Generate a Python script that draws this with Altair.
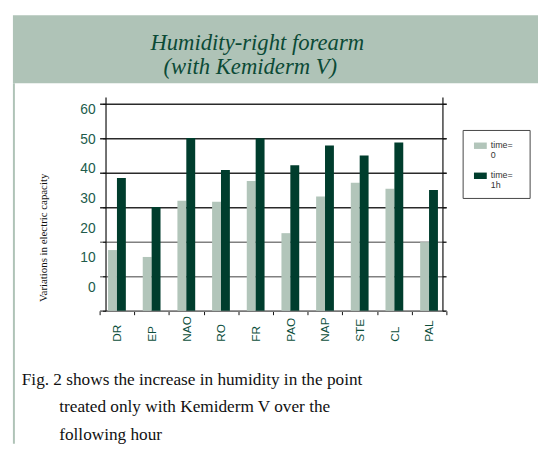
import altair as alt
import pandas as pd

# ---- data ----
categories = ["DR", "EP", "NAO", "RO", "FR", "PAO", "NAP", "STE", "CL", "PAL"]
series = ["time= 0", "time= 1h"]
time0 = [17.6, 15.6, 31.9, 31.6, 37.6, 22.5, 33.1, 37.1, 35.4, 19.9]
time1h = [38.5, 30.1, 50.1, 40.8, 50.0, 42.2, 47.9, 45.0, 48.8, 35.0]
y_tick_values = [60, 50, 40, 30, 20, 10, 0]
y_tick_labels = ["60", "50", "40", "30", "20", "10", "0"]
title_lines = ["Humidity-right forearm", "(with Kemiderm V)"]
y_title = "Variations in electric capacity"
caption_lines = [
    "Fig. 2 shows the increase in humidity in the point",
    "treated only with Kemiderm V over the",
    "following hour",
]

rows = []
for c, a, b in zip(categories, time0, time1h):
    rows.append({"cat": c, "series": series[0], "value": a})
    rows.append({"cat": c, "series": series[1], "value": b})
df = pd.DataFrame(rows)
ylab_df = pd.DataFrame({"v": y_tick_values, "label": y_tick_labels})

LIGHT = "#b2c5ba"
DARK = "#003d2d"
BAND = "#afc3b7"
GREEN_TXT = "#0b4a36"

W, H = 342, 217
Y_DOMAIN = [0, 62]

x_enc = alt.X(
    "cat:N",
    sort=categories,
    scale=alt.Scale(domain=categories, range=[-6, 346], paddingInner=0, paddingOuter=0),
    axis=alt.Axis(
        title=None, tickBand="extent", labelAngle=270, labelAlign="left",
        labelBaseline="middle", labelPadding=27, tickSize=4, tickColor="#111",
        domainColor="#777", domainWidth=1.5, labelFont="Liberation Sans",
        labelFontSize=12, labelColor="#0d4f3c", grid=False,
    ),
)
xoff_enc = alt.XOffset(
    "series:N", sort=series,
    scale=alt.Scale(domain=series, paddingOuter=0.95, paddingInner=0),
)
color_enc = alt.Color("series:N", scale=alt.Scale(domain=series, range=[LIGHT, DARK]), legend=None)

bars = alt.Chart(df).mark_bar().encode(
    x=x_enc,
    xOffset=xoff_enc,
    y=alt.Y(
        "value:Q",
        scale=alt.Scale(domain=Y_DOMAIN, nice=False),
        axis=alt.Axis(
            orient="left", values=y_tick_values, labels=False, title=None,
            tickSize=3, tickColor="#111", domainColor="#111", domainWidth=1.2,
            grid=True, gridWidth=1.5,
            gridColor={"condition": {"test": "datum.value >= 30", "value": "#2a2a2a"}, "value": "#808080"},
        ),
    ),
    color=color_enc,
)

right_axis = alt.Chart(df).mark_bar(opacity=0).encode(
    x=x_enc,
    xOffset=xoff_enc,
    y=alt.Y(
        "value:Q",
        scale=alt.Scale(domain=Y_DOMAIN, nice=False),
        axis=alt.Axis(
            orient="right", values=y_tick_values, labels=False, title=None,
            tickSize=3, tickColor="#111", domainColor="#111", domainWidth=1.2, grid=False,
        ),
    ),
)

ylabels = alt.Chart(ylab_df).transform_calculate(
    pos="6.6 + 0.86 * datum.v"
).mark_text(
    align="right", baseline="middle", font="Liberation Sans", fontSize=14, color="#215b4b"
).encode(
    x=alt.value(-10),
    y=alt.Y("pos:Q", scale=alt.Scale(domain=Y_DOMAIN, nice=False), axis=None),
    text="label:N",
)

ytitle = alt.Chart(pd.DataFrame({"t": [y_title]})).mark_text(
    angle=270, font="Liberation Serif", fontSize=11, color="#111",
    baseline="middle", align="center",
).encode(x=alt.value(-62), y=alt.value(143), text="t:N")

one = pd.DataFrame({"k": [0]})
band = alt.Chart(one).mark_rect(color=BAND).encode(
    x=alt.value(-94), x2=alt.value(439), y=alt.value(-83), y2=alt.value(-14)
)
strip = alt.Chart(one).mark_rect(color=BAND).encode(
    x=alt.value(-94), x2=alt.value(-92), y=alt.value(-14), y2=alt.value(352)
)

title1 = alt.Chart(pd.DataFrame({"t": [title_lines[0]]})).mark_text(
    font="Liberation Serif", fontStyle="italic", fontSize=23, color=GREEN_TXT,
    align="center", baseline="alphabetic",
).encode(x=alt.value(154), y=alt.value(-48), text="t:N")
title2 = alt.Chart(pd.DataFrame({"t": [title_lines[1]]})).mark_text(
    font="Liberation Serif", fontStyle="italic", fontSize=23, color=GREEN_TXT,
    align="center", baseline="alphabetic",
).encode(x=alt.value(147), y=alt.value(-23), text="t:N")

legend_box = alt.Chart(one).mark_rect(fillOpacity=0, stroke="#444", strokeWidth=1).encode(
    x=alt.value(363), x2=alt.value(431), y=alt.value(34), y2=alt.value(103)
)
leg_df = pd.DataFrame({"series": series})
leg_y = alt.Y("series:N", sort=series, scale=alt.Scale(domain=series, range=[49.5, 80], padding=0), axis=None)
leg_sw = alt.Chart(leg_df).mark_point(
    shape="M-1,-0.5H1V0.5H-1Z", size=169, filled=True, opacity=1, strokeWidth=0
).encode(x=alt.value(380.5), y=leg_y, color=color_enc)
leg_txt = alt.Chart(leg_df).mark_text(
    lineBreak=" ", align="left", baseline="top", dy=-5, font="Liberation Sans",
    fontSize=9, lineHeight=10.5, color="#333",
).encode(x=alt.value(391), y=leg_y, text="series:N")

cap_layers = []
cap_x = [-85, -47, -47]
cap_y = [292, 320, 348]
for line, cx, cy in zip(caption_lines, cap_x, cap_y):
    cap_layers.append(
        alt.Chart(pd.DataFrame({"t": [line]})).mark_text(
            font="Liberation Serif", fontSize=17.5, color="#111", align="left", baseline="alphabetic"
        ).encode(x=alt.value(cx), y=alt.value(cy), text="t:N")
    )

chart = alt.layer(
    band, strip, bars, right_axis, ylabels, ytitle, title1, title2,
    legend_box, leg_sw, leg_txt, *cap_layers,
).resolve_scale(y="independent").properties(
    width=W, height=H,
    autosize=alt.AutoSizeParams(type="none"),
    padding={"left": 99, "top": 87, "right": 97, "bottom": 135},
    background="white",
).configure_view(stroke=None)

chart.save("out.html", embed_options={"renderer": "svg", "actions": False})
